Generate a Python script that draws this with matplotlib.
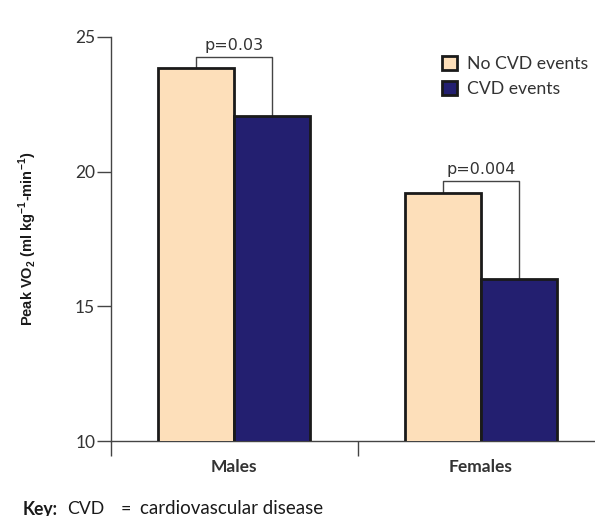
import numpy as np
import matplotlib.pyplot as plt

grupos = ["Males", "Females"]
sin_eventos = [23.85, 19.2]
con_eventos = [22.07, 16.03]
p_valores = ["p=0.03", "p=0.004"]
bracket_y = [24.27, 19.67]

plt.rcParams["font.family"] = ["Lato", "DejaVu Sans"]

color_peach = "#FDDFBA"
color_navy = "#231F70"
gris = "#333333"

fig = plt.figure(figsize=(5.95, 5.16), dpi=100)
ax = fig.add_axes([110.5 / 595, 75 / 516, 494 / 595, 404 / 516])

x = np.arange(len(grupos))
ancho = 0.308
ax.bar(x - ancho / 2, sin_eventos, ancho, color=color_peach, edgecolor="#1a1a1a",
       linewidth=2, label="No CVD events", zorder=3)
ax.bar(x + ancho / 2, con_eventos, ancho, color=color_navy, edgecolor="#1a1a1a",
       linewidth=2, label="CVD events", zorder=3)

# corchetes de significancia
for i in range(len(grupos)):
    xl = x[i] - ancho / 2
    xr = x[i] + ancho / 2
    yb = bracket_y[i]
    ax.plot([xl, xl, xr, xr], [sin_eventos[i], yb, yb, con_eventos[i]],
            color="#444444", linewidth=1, zorder=2)
    ax.text(x[i], yb + 0.12, p_valores[i], ha="center", va="bottom",
            fontsize=11.5, color=gris, family="DejaVu Sans")

ax.set_xlim(-0.5, 1.5)
ax.set_ylim(10, 25)
ax.set_yticks([10, 15, 20, 25])
ax.set_xticks([-0.5, 0.5])
ax.set_xticklabels([])
for i, g in enumerate(grupos):
    ax.text(x[i], 9.05, g, ha="center", va="center", fontsize=12.5,
            fontweight="bold", color=gris)

ax.tick_params(axis="y", direction="out", length=10, width=1, colors="#444444",
               labelsize=12.5, labelcolor=gris, pad=1)
ax.tick_params(axis="x", direction="out", length=11, width=1, colors="#444444")
for s in ["top", "right"]:
    ax.spines[s].set_visible(False)
for s in ["left", "bottom"]:
    ax.spines[s].set_color("#444444")
    ax.spines[s].set_linewidth(1)

ax.set_ylabel("Peak VO$_\\mathregular{2}$ (ml kg$^\\mathregular{-1}$-min$^\\mathregular{-1}$)",
              fontsize=10.5, fontweight="bold", family="Liberation Sans",
              labelpad=26, color="#1a1a1a")

ax.legend(loc="upper left", bbox_to_anchor=(426 / 595, 1 - 40 / 516),
          bbox_transform=fig.transFigure, frameon=False, fontsize=12.7,
          handlelength=0.85, handleheight=0.85, handletextpad=0.55,
          labelspacing=0.5, labelcolor=gris)

yk = 1 - 509 / 516
fig.text(23 / 595, yk, "Key:", fontsize=12.7, fontweight="bold",
         color="#1a1a1a", va="center")
fig.text(67 / 595, yk, "CVD", fontsize=12.7, color="#1a1a1a", va="center")
fig.text(126 / 595, yk, "=", fontsize=12.7, color="#1a1a1a", va="center", ha="center")
fig.text(140 / 595, yk, "cardiovascular disease", fontsize=13.5, color="#1a1a1a",
         va="center")

fig.savefig("out.png", dpi=100)
